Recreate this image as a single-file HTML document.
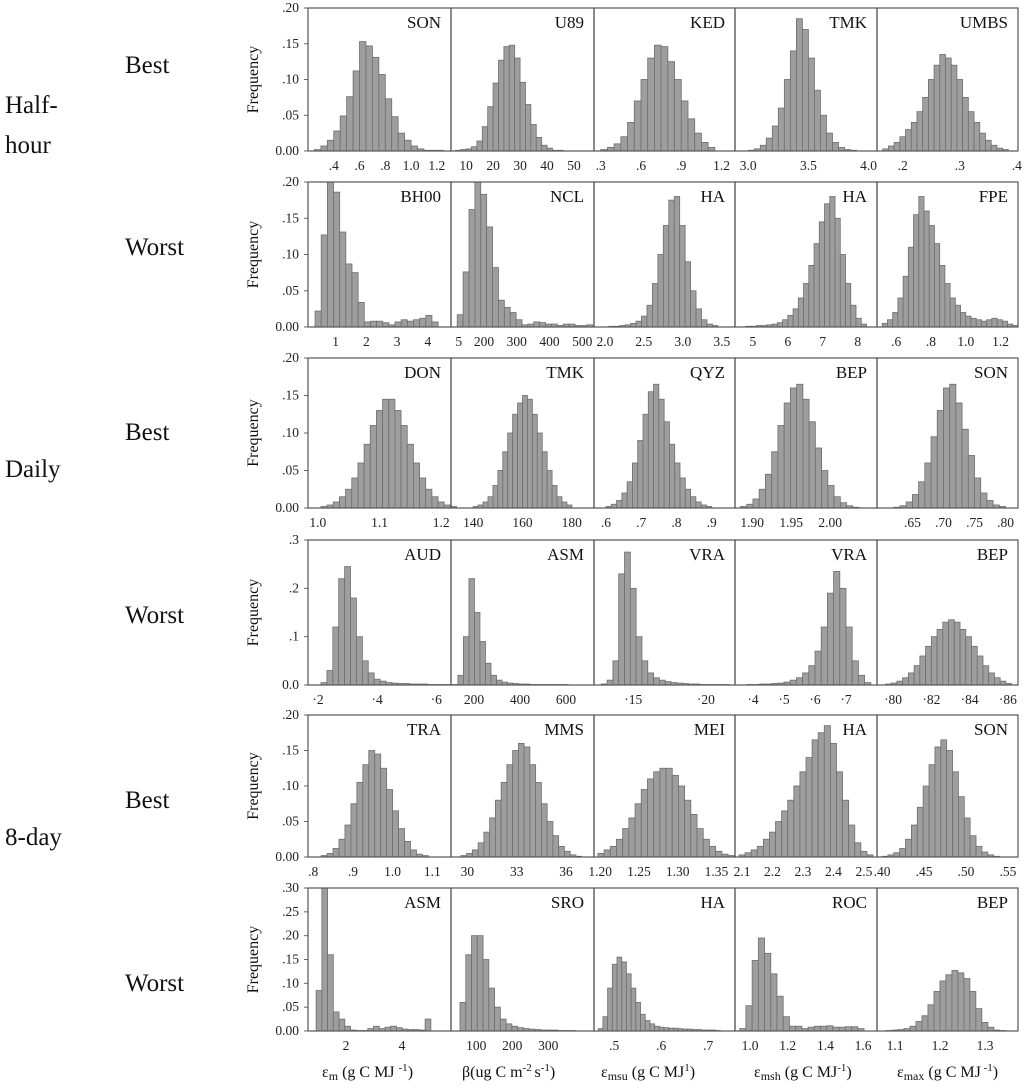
<!DOCTYPE html>
<html><head><meta charset="utf-8">
<style>
body{margin:0;background:#fff;}
svg{display:block;font-family:"Liberation Serif",serif;}
.side{font-size:25px;fill:#111;}
.tick{font-size:13.5px;fill:#222;}
.site{font-size:17px;fill:#111;}
.freq{font-size:16px;fill:#111;}
.xt{font-size:16px;fill:#111;}
</style></head>
<body>
<svg id="chart" width="1024" height="1090" viewBox="0 0 1024 1090" xmlns="http://www.w3.org/2000/svg">
<text class="side" x="5" y="113">Half-</text>
<text class="side" x="5" y="153">hour</text>
<text class="side" x="5" y="477">Daily</text>
<text class="side" x="5" y="845">8-day</text>
<text class="side" x="125" y="73">Best</text>
<text class="side" x="125" y="255">Worst</text>
<text class="side" x="125" y="440">Best</text>
<text class="side" x="125" y="623">Worst</text>
<text class="side" x="125" y="808">Best</text>
<text class="side" x="125" y="991">Worst</text>
<g class="xt">
<text x="322" y="1077">ε<tspan font-size="12" dy="3">m</tspan><tspan dy="-3"> (g C MJ </tspan><tspan font-size="11" dy="-6">-1</tspan><tspan dy="6">)</tspan></text>
<text x="462" y="1077">β(ug C m<tspan font-size="11" dy="-6">-2 </tspan><tspan dy="6">s</tspan><tspan font-size="11" dy="-6">-1</tspan><tspan dy="6">)</tspan></text>
<text x="601" y="1077">ε<tspan font-size="12" dy="3">msu</tspan><tspan dy="-3"> (g C MJ</tspan><tspan font-size="11" dy="-6">1</tspan><tspan dy="6">)</tspan></text>
<text x="754" y="1077">ε<tspan font-size="12" dy="3">msh</tspan><tspan dy="-3"> (g C MJ</tspan><tspan font-size="11" dy="-6">-1</tspan><tspan dy="6">)</tspan></text>
<text x="897" y="1077">ε<tspan font-size="12" dy="3">max</tspan><tspan dy="-3"> (g C MJ</tspan><tspan font-size="11" dy="-6"> -1</tspan><tspan dy="6">)</tspan></text>
</g>
</svg>
<script>
// grid geometry
var colEdges=[308,451,594,735,877,1018];
var rowTop=[8,182,358,540,715,888];
var rowBot=[151,327,508,685,857,1031];
// per-row y axis
var rowYMax=[0.2,0.2,0.2,0.3,0.2,0.3];
var rowYTicks=[[0,.05,.1,.15,.2],[0,.05,.1,.15,.2],[0,.05,.1,.15,.2],[0,.1,.2,.3],[0,.05,.1,.15,.2],[0,.05,.1,.15,.2,.25,.3]];
var rowYLabels=[["0.00",".05",".10",".15",".20"],["0.00",".05",".10",".15",".20"],["0.00",".05",".10",".15",".20"],["0.0",".1",".2",".3"],["0.00",".05",".10",".15",".20"],["0.00",".05",".10",".15",".20",".25",".30"]];
// panel site labels
var siteLabels=["SON","U89","KED","TMK","UMBS","BH00","NCL","HA","HA","FPE","DON","TMK","QYZ","BEP","SON","AUD","ASM","VRA","VRA","BEP","TRA","MMS","MEI","HA","SON","ASM","SRO","HA","ROC","BEP"];
// x domains [lo,hi]
var xDomains=[[.2,1.31],[4.4,57.4],[.25,1.3],[2.89,4.07],[.155,.402],
[.1,4.75],[99,536],[1.86,3.67],[4.49,8.55],[.49,1.30],
[.984,1.216],[131,189],[.566,.966],[1.878,2.06],[.593,.82],
[.166,.65],[100,722],[.123,.22],[.342,.80],[.7916,.8653],
[.787,1.147],[29,37.7],[1.192,1.374],[2.077,2.543],[.394,.562],
[.64,5.75],[30,427],[.457,.757],[.92,1.674],[1.06,1.373]];
// bin start and width
var binStart=[.25,6,.3,3.0,.165, .33,118,2.05,4.8,.52, 1.005,140,.6,1.885,.62, .21,130,.128,.38,.796, .82,29.6,1.197,2.09,.40, .93,55,.466,.945,1.08];
var binWidth=[.05,2,.05,.05,.01, .2,18,.07,.15,.03, .01,2,.015,.008,.01, .02,24,.004,.02,.003, .015,.35,.008,.02,.007, .205,16,.01,.033,.0133];
// frequency values per panel
var freqValues=[
[.002,.007,.015,.028,.049,.076,.112,.153,.147,.131,.107,.073,.048,.025,.015,.007,.003,.001,.001,.001],
[.001,.002,.003,.006,.014,.034,.062,.095,.127,.146,.148,.130,.096,.065,.037,.019,.008,.004,.001,.001],
[.002,.005,.01,.02,.04,.07,.1,.13,.148,.146,.125,.1,.07,.045,.025,.012,.005],
[.001,.003,.008,.018,.035,.06,.1,.14,.185,.17,.13,.085,.05,.025,.012,.005,.002,.001],
[.003,.007,.012,.02,.03,.04,.055,.075,.1,.12,.135,.13,.12,.1,.075,.055,.04,.025,.015,.008,.004,.002],
[.022,.127,.21,.186,.131,.087,.075,.034,.007,.008,.008,.006,.003,.007,.01,.008,.01,.012,.016,.007],
[.017,.076,.162,.21,.183,.138,.082,.037,.027,.02,.01,.003,.004,.007,.006,.004,.004,.002,.004,.004,.002,.002,.003],
[.001,.001,.002,.003,.005,.008,.015,.03,.06,.1,.14,.175,.18,.14,.09,.05,.025,.01,.004,.002],
[.001,.001,.002,.002,.003,.004,.006,.01,.016,.025,.04,.06,.085,.115,.145,.17,.18,.15,.1,.06,.03,.012,.004],
[.005,.01,.02,.04,.07,.11,.155,.18,.16,.14,.115,.085,.06,.04,.03,.02,.015,.012,.01,.008,.01,.012,.01,.008,.004,.002],
[.002,.004,.008,.015,.025,.04,.06,.085,.11,.13,.145,.145,.13,.11,.085,.06,.04,.025,.015,.008,.004,.002],
[.002,.004,.008,.015,.03,.05,.075,.1,.125,.14,.15,.145,.125,.1,.075,.05,.03,.015,.008,.004],
[.002,.005,.01,.02,.035,.06,.09,.125,.155,.165,.145,.115,.085,.06,.04,.025,.015,.008,.004,.002],
[.002,.005,.012,.025,.045,.075,.11,.14,.16,.165,.145,.115,.08,.05,.03,.015,.007,.003,.001],
[.001,.003,.008,.018,.035,.06,.095,.13,.16,.165,.14,.105,.07,.04,.02,.01,.004,.002],
[.005,.03,.12,.22,.245,.18,.1,.05,.025,.012,.008,.005,.004,.003,.003,.002,.002,.002,.001,.001,.001,.001,.001,.001],
[.02,.1,.22,.15,.09,.045,.02,.01,.006,.004,.003,.002,.002,.001,.001,.001,.001,.001,.001,.001],
[.002,.01,.05,.23,.275,.2,.1,.05,.025,.015,.01,.007,.005,.004,.003,.002,.002,.001,.001,.001,.001,.001],
[.001,.001,.002,.002,.003,.004,.006,.01,.015,.025,.04,.07,.12,.19,.235,.2,.12,.05,.02,.005],
[.002,.004,.008,.015,.025,.04,.06,.08,.1,.115,.13,.135,.13,.115,.1,.08,.06,.04,.025,.015,.008,.003],
[.002,.005,.012,.025,.045,.075,.105,.13,.15,.145,.125,.095,.065,.04,.022,.01,.004,.002],
[.002,.005,.01,.02,.035,.055,.08,.105,.13,.15,.16,.155,.13,.105,.075,.05,.03,.015,.008,.003,.001],
[.005,.01,.015,.025,.04,.055,.075,.095,.11,.12,.125,.125,.115,.1,.08,.06,.04,.025,.015,.008,.004,.002],
[.003,.006,.01,.015,.025,.035,.05,.065,.08,.1,.12,.14,.165,.175,.185,.16,.12,.08,.045,.02,.008,.003],
[.001,.003,.006,.012,.025,.045,.07,.1,.13,.155,.165,.15,.12,.085,.055,.03,.015,.007,.003,.001],
[.085,.30,.16,.04,.025,.01,.002,.001,.001,.005,.01,.005,.008,.01,.007,.004,.003,.003,.002,.025],
[.06,.16,.2,.2,.15,.09,.05,.025,.015,.01,.007,.005,.004,.003,.002,.002,.002,.001,.001,.001],
[.005,.03,.09,.14,.155,.145,.12,.09,.06,.035,.022,.015,.01,.008,.007,.006,.006,.005,.004,.004,.003,.003,.002,.002,.002,.001],
[.005,.053,.148,.195,.163,.12,.073,.03,.01,.01,.005,.008,.01,.01,.011,.008,.008,.009,.009,.005],
[.001,.002,.003,.005,.01,.02,.032,.055,.083,.105,.118,.127,.122,.11,.083,.047,.018,.008,.002,.001]];
// x tick values and labels
var xTickVals=[[.4,.6,.8,1.0,1.2],[10,20,30,40,50],[.3,.6,.9,1.2],[3.0,3.5,4.0],[.2,.3,.4],
[1,2,3,4,5],[200,300,400,500],[2.0,2.5,3.0,3.5],[5,6,7,8],[.6,.8,1.0,1.2],
[1.0,1.1,1.2],[140,160,180],[.6,.7,.8,.9],[1.90,1.95,2.00],[.65,.70,.75,.80],
[.2,.4,.6],[200,400,600],[.15,.20],[.4,.5,.6,.7],[.80,.82,.84,.86],
[.8,.9,1.0,1.1],[30,33,36],[1.20,1.25,1.30,1.35],[2.1,2.2,2.3,2.4,2.5],[.40,.45,.50,.55],
[2,4],[100,200,300],[.5,.6,.7],[1.0,1.2,1.4,1.6],[1.1,1.2,1.3]];
var xTickLabels=[[".4",".6",".8","1.0","1.2"],["10","20","30","40","50"],[".3",".6",".9","1.2"],["3.0","3.5","4.0"],[".2",".3",".4"],
["1","2","3","4","5"],["200","300","400","500"],["2.0","2.5","3.0","3.5"],["5","6","7","8"],[".6",".8","1.0","1.2"],
["1.0","1.1","1.2"],["140","160","180"],[".6",".7",".8",".9"],["1.90","1.95","2.00"],[".65",".70",".75",".80"],
["·2","·4","·6"],["200","400","600"],["·15","·20"],["·4","·5","·6","·7"],["·80","·82","·84","·86"],
[".8",".9","1.0","1.1"],["30","33","36"],["1.20","1.25","1.30","1.35"],["2.1","2.2","2.3","2.4","2.5"],[".40",".45",".50",".55"],
["2","4"],["100","200","300"],[".5",".6",".7"],["1.0","1.2","1.4","1.6"],["1.1","1.2","1.3"]];

var svg=document.getElementById('chart');
var NS='http://www.w3.org/2000/svg';
function mk(tag,attrs,parent){var e=document.createElementNS(NS,tag);for(var k in attrs)e.setAttribute(k,attrs[k]);(parent||svg).appendChild(e);return e;}

for(var r=0;r<6;r++){
  var t=rowTop[r],b=rowBot[r],ym=rowYMax[r];
  var ys=(function(t,b,ym){return function(v){return b-(v/ym)*(b-t);};})(t,b,ym);
  var ft=mk('text',{class:'freq',transform:'translate(258,'+((t+b)/2)+') rotate(-90)','text-anchor':'middle'});
  
  
  ft.textContent='Frequency';
  for(var i=0;i<rowYTicks[r].length;i++){
    var yy=ys(rowYTicks[r][i]);
    var tl=mk('text',{class:'tick',x:299,y:yy+4,'text-anchor':'end'});
    
    
    tl.textContent=rowYLabels[r][i];
    mk('line',{x1:304,x2:308,y1:yy,y2:yy,stroke:'#666','stroke-width':1});
  }
  for(var c=0;c<5;c++){
    var p=r*5+c,x0=colEdges[c],x1=colEdges[c+1];
    var g=mk('g',{});
    
    
    var dom=xDomains[p];
    var xs=(function(x0,x1,dom){return function(v){return x0+(v-dom[0])/(dom[1]-dom[0])*(x1-x0);};})(x0,x1,dom);
    var vals=freqValues[p];
    for(var k=0;k<vals.length;k++){
      var v=Math.min(vals[k],ym);
      var bx0=xs(binStart[p]+k*binWidth[p]),bx1=xs(binStart[p]+(k+1)*binWidth[p]);
      var rect=mk('rect',{x:bx0,y:ys(v),width:Math.max(bx1-bx0,0.5),height:b-ys(v),fill:'#9e9e9e',stroke:'#6e6e6e','stroke-width':0.8},g);
      
      
    }
    var box=mk('rect',{x:x0,y:t,width:x1-x0,height:b-t,fill:'none',stroke:'#555','stroke-width':1.2},g);
    
    
    var sl=mk('text',{class:'site',x:x1-10,y:t+20,'text-anchor':'end'},g);
    
    
    sl.textContent=siteLabels[p];
    for(var j=0;j<xTickVals[p].length;j++){
      var tx=xs(xTickVals[p][j]);
      var xl=mk('text',{class:'tick',x:tx,y:b+19,'text-anchor':'middle'},g);
      
      
      xl.textContent=xTickLabels[p][j];
    }
  }
}
</script>
</body></html>
